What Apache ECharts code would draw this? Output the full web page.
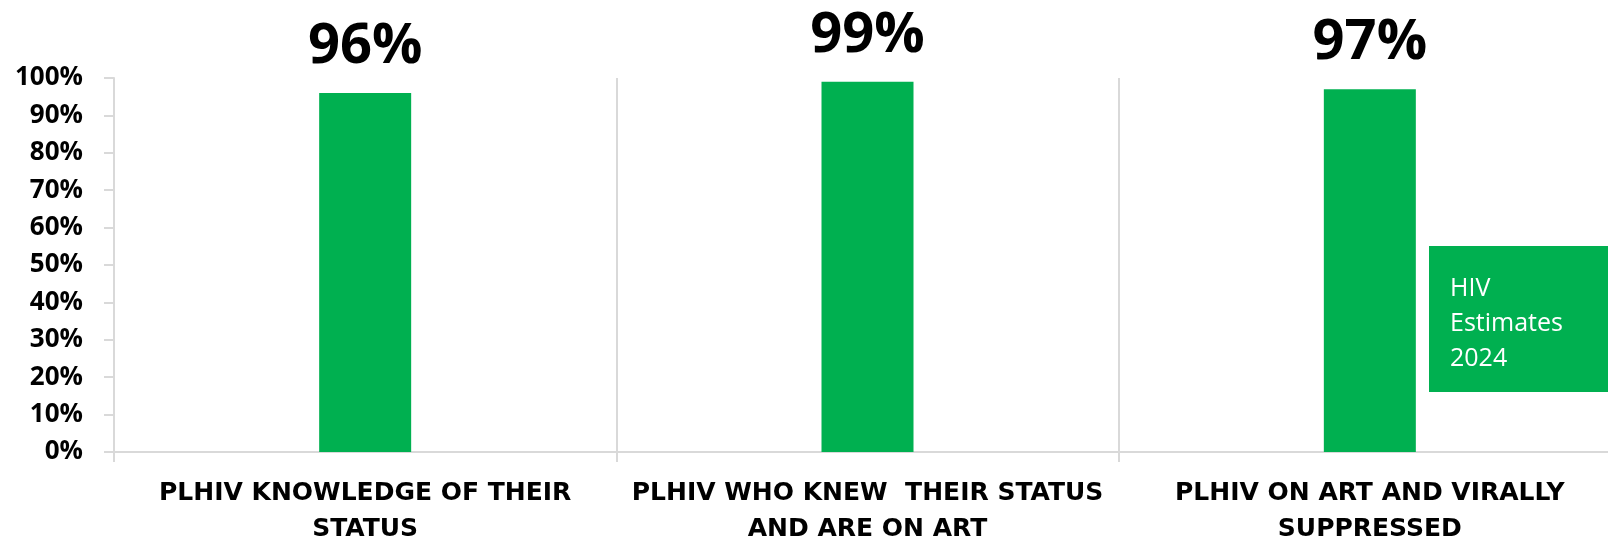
<!DOCTYPE html>
<html>
<head>
<meta charset="utf-8">
<script src="https://cdn.jsdelivr.net/npm/echarts@6/dist/echarts.min.js"></script>
<style>
  html, body { margin: 0; padding: 0; background: #fff; }
  #main { width: 1608px; height: 536px; }
</style>
</head>
<body>
<div id="main"></div>
<script>
// categories (wrapped as in the picture)
var categories = [
  "PLHIV KNOWLEDGE OF THEIR\nSTATUS",
  "PLHIV WHO KNEW  THEIR STATUS\nAND ARE ON ART",
  "PLHIV ON ART AND VIRALLY\nSUPPRESSED"
];
// percent values
var values = [96, 99, 97];
var noteLines = ["HIV", "Estimates", "2024"];

var green = "#00B050";
var gray = "#d9d9d9";

var chart = echarts.init(document.getElementById("main"));
var option = {
  animation: false,
  grid: {
    left: 114,
    top: 78,
    width: 1507,
    height: 374,
    containLabel: false,
    outerBoundsMode: "none"
  },
  xAxis: {
    type: "category",
    data: categories,
    boundaryGap: true,
    axisLine: { lineStyle: { color: gray, width: 2 } },
    axisTick: { show: true, length: 10, lineStyle: { color: gray, width: 2 } },
    splitLine: { show: true, lineStyle: { color: gray, width: 2 } },
    axisLabel: {
      interval: 0,
      margin: 23,
      color: "#000",
      fontFamily: "DejaVu Sans",
      fontWeight: "bold",
      fontSize: 25,
      lineHeight: 36
    }
  },
  yAxis: {
    type: "value",
    min: 0,
    max: 100,
    interval: 10,
    axisLine: { show: true, lineStyle: { color: gray, width: 2 } },
    axisTick: { show: true, length: 10, lineStyle: { color: gray, width: 2 } },
    splitLine: { show: false },
    axisLabel: {
      margin: 31,
      color: "#000",
      fontFamily: "Open Sans",
      fontWeight: "bold",
      fontSize: 26,
      formatter: "{value}%"
    }
  },
  series: [
    {
      type: "bar",
      data: values,
      barWidth: 92,
      itemStyle: { color: green },
      label: {
        show: true,
        position: "top",
        distance: 18,
        color: "#000",
        fontFamily: "Open Sans",
        fontWeight: "bold",
        fontSize: 56,
        formatter: "{c}%"
      }
    }
  ],
  graphic: [
    {
      type: "rect",
      left: 1429,
      top: 246,
      shape: { width: 190, height: 146 },
      style: { fill: green },
      z: 10
    },
    {
      type: "text",
      left: 1450,
      top: 271,
      style: {
        text: noteLines.join("\n"),
        fill: "#fff",
        font: "25px 'Open Sans'",
        lineHeight: 35
      },
      z: 11
    }
  ]
};
chart.setOption(option);
</script>
</body>
</html>
